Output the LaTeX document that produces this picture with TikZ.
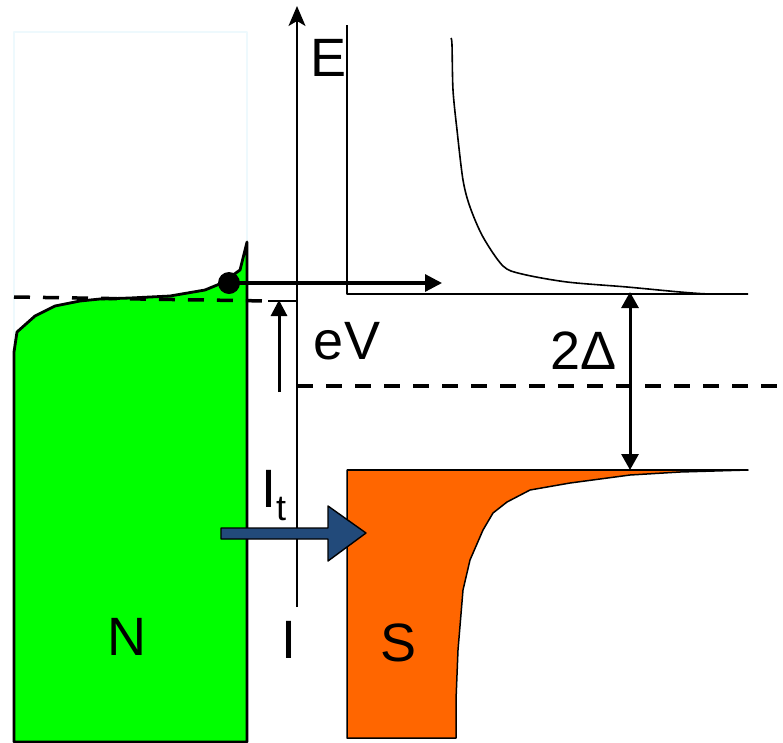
\documentclass[tikz,border=0pt]{standalone}
\usepackage{fontspec}
\setmainfont{Liberation Sans}
\usetikzlibrary{arrows.meta}
\definecolor{ngreen}{HTML}{00FF00}
\definecolor{sorange}{HTML}{FF6600}
\definecolor{itblue}{HTML}{224A7A}
\definecolor{faintcyan}{HTML}{EEF9FD}
\begin{document}
\begin{tikzpicture}[x=1pt,y=-1pt,line join=round,
 lbl/.style={font=\fontsize{54}{60}\selectfont, inner sep=0pt},
 thinline/.style={line width=1.8pt},
 dashline/.style={line width=3.5pt, dash pattern=on 16pt off 13pt},
 bigarrow/.style={line width=3.2pt,-{Triangle[length=17pt,width=17pt]}},
 dblarrow/.style={line width=3pt,{Triangle[length=16pt,width=17pt]}-{Triangle[length=16pt,width=17pt]}},
]
\useasboundingbox (0,0) rectangle (783,742);
% faint frame
\draw[faintcyan,line width=1.5pt] (14,32) rectangle (247,742);
% N region
\draw[fill=ngreen,line width=2.8pt] (14,742) -- (14,352) -- (17,332) -- (35,316) -- (55,306) -- (80,301) -- (100,299) -- (130,298) -- (170,296) -- (205,290) -- (222,283) -- (240,270) -- (243,258) -- (247,242) -- (247,742) -- cycle;
% S region
\draw[fill=sorange,line width=1.5pt] (347,470) -- (748,470) -- (680,472) -- (630,475) -- (570,483) -- (530,490) -- (507,502) -- (493,513) -- (483,530) -- (470,560) -- (463,590) -- (458,650) -- (456,700) -- (456,738) -- (347,738) -- cycle;
\draw[thinline] (347,470) -- (748,470);
% upper DOS
\draw[thinline] (347,25) -- (347,294) -- (748,294);
\draw[line width=1.6pt] plot[smooth,tension=0.5] coordinates {(451,38) (452,45) (453,90) (457,130) (463,180) (470,207) (483,237) (503,266) (522,274) (567,282) (627,287) (680,292) (710,294) (748,294)};
% dashed Fermi levels
\draw[dashline] (14,297) -- (268,301);
\draw[thinline] (268,301) -- (297,301);
\draw[dashline] (297,386) -- (783,386);
% energy axis
\coordinate (axb) at (297,607);
\coordinate (axt) at (297,6);
\draw[line width=2pt,-{Stealth[length=20pt,width=17pt,inset=5pt]}] (axb) -- (axt);
% electron
\node[circle,fill=black,minimum size=22pt,inner sep=0pt] (dot) at (229,283) {};
\coordinate (tipE) at (442,283);
\draw[bigarrow] (dot.center) -- (tipE);
% eV arrow
\coordinate (evb) at (279,392);
\coordinate (evt) at (279,300);
\draw[line width=3pt,-{Triangle[length=16pt,width=16pt]}] (evb) -- (evt);
% 2Delta arrow
\coordinate (gt) at (630,292);
\coordinate (gb) at (630,470);
\draw[dblarrow] (gt) -- (gb);
% tunnel current arrow
\draw[fill=itblue,line width=1.4pt] (221,528) -- (328,528) -- (328,506) -- (366,533) -- (328,561) -- (328,539) -- (221,539) -- cycle;
% labels
\node[lbl] (E) at (329,58) {E};
\node[lbl] (eV) at (347,341) {eV};
\node[lbl] (gap) at (584,351) {2Δ};
\node[lbl,anchor=base west] (It) at (261,507) {I\raisebox{-13pt}{\fontsize{36}{40}\selectfont t}};
\node[lbl] (N) at (127,637) {N};
\node[lbl] (I) at (289,640) {I};
\node[lbl] (S) at (399,643) {S};
\end{tikzpicture}
\end{document}
